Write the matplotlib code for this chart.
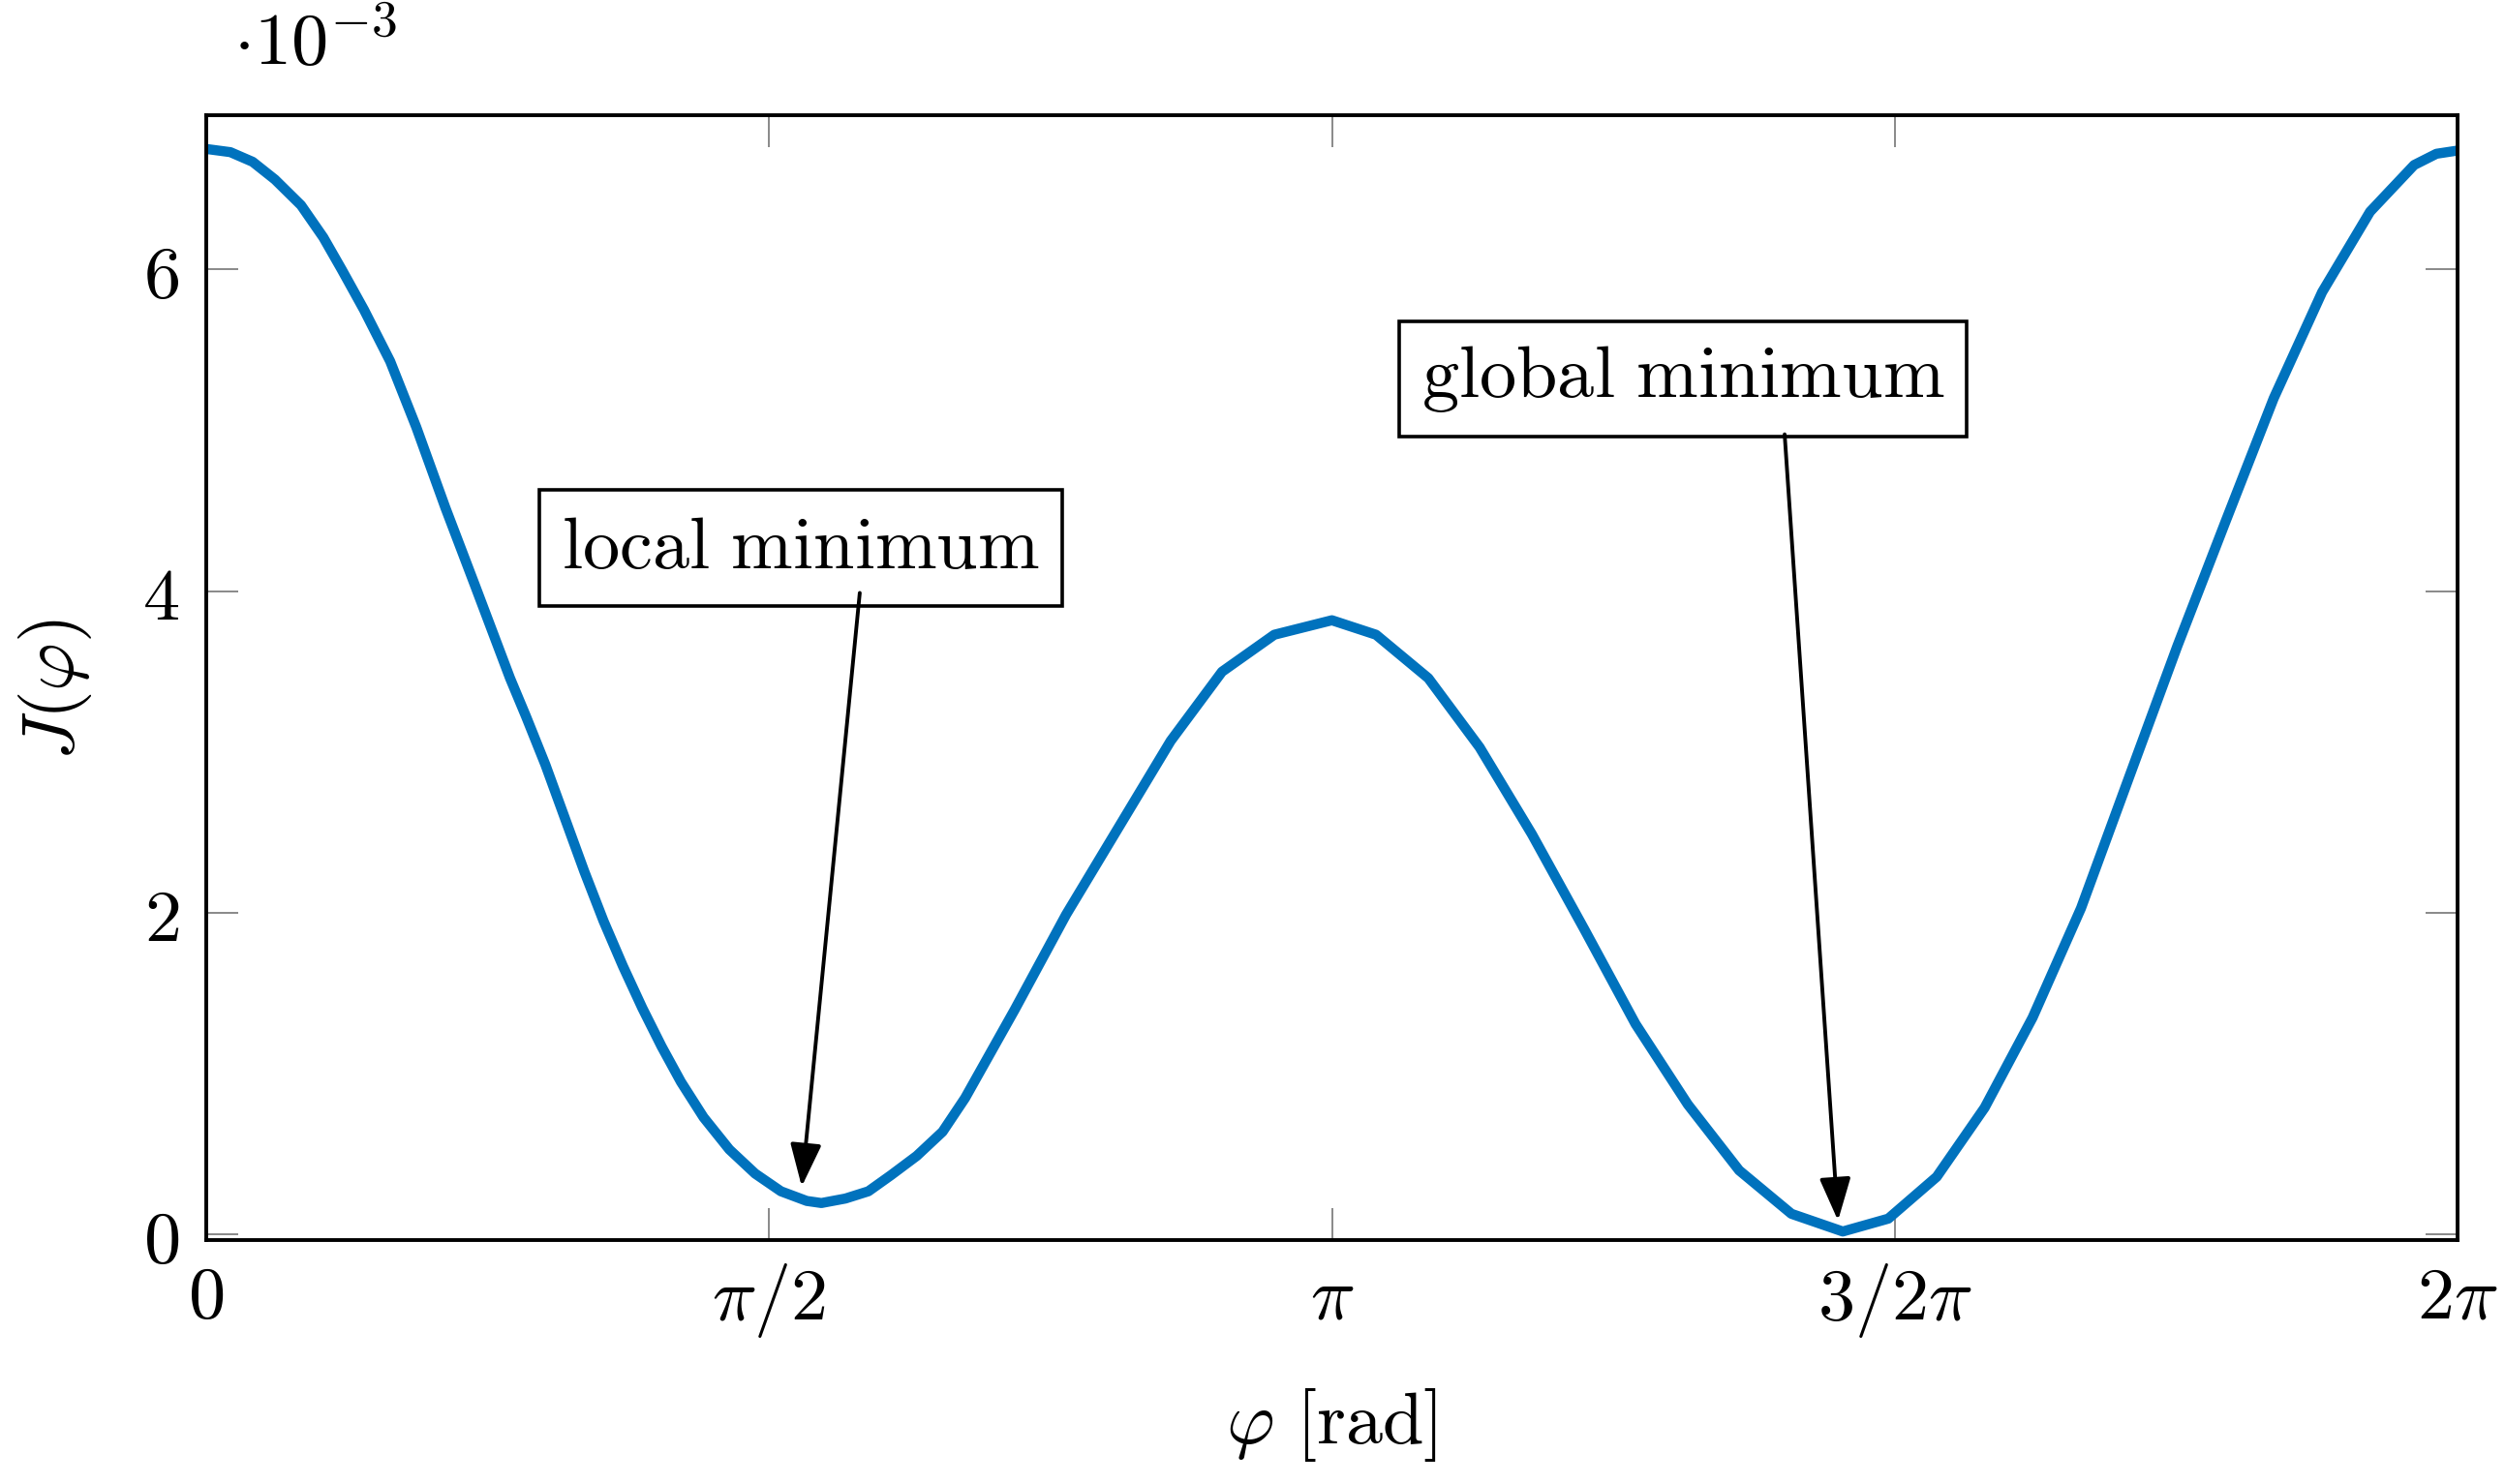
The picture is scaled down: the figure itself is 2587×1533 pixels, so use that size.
import matplotlib
matplotlib.use('Agg')
import matplotlib.pyplot as plt
import numpy as np

plt.rcParams['mathtext.fontset'] = 'cm'

# cost function: phi [rad], J in units of 1e-3
phi = [0.0, 0.0676, 0.1297, 0.1919, 0.2648, 0.3270, 0.3784, 0.4405, 0.5135,
       0.5864, 0.6675, 0.7513, 0.848, 0.893, 0.947, 1.001, 1.055, 1.109,
       1.163, 1.217, 1.271, 1.325, 1.388, 1.460, 1.532, 1.604, 1.676, 1.717,
       1.784, 1.848, 1.911, 1.983, 2.055, 2.118,
       2.2566, 2.3998, 2.5457, 2.6917, 2.8349, 2.9808, 3.1416, 3.2647, 3.4106,
       3.5538, 3.6997, 3.8457, 3.9889, 4.1348, 4.2781, 4.4240, 4.5672, 4.6943,
       4.8294, 4.9632, 5.0970, 5.2321, 5.3672, 5.5010, 5.6348, 5.7699, 5.9050,
       6.0388, 6.1617, 6.224, 6.2832]
J = [6.75, 6.73, 6.67, 6.56, 6.40, 6.20, 6.00, 5.75, 5.43,
     5.02, 4.52, 4.03, 3.46, 3.22, 2.92, 2.59, 2.26, 1.95,
     1.67, 1.41, 1.17, 0.95, 0.73, 0.53, 0.38, 0.27, 0.21, 0.197,
     0.225, 0.27, 0.37, 0.49, 0.64, 0.85,
     1.40, 1.99, 2.53, 3.07, 3.50, 3.73, 3.82, 3.73, 3.46,
     3.03, 2.49, 1.90, 1.31, 0.81, 0.40, 0.13, 0.02, 0.10,
     0.36, 0.79, 1.35, 2.03, 2.85, 3.66, 4.43, 5.20, 5.86,
     6.36, 6.65, 6.72, 6.74]

xticks = [0, np.pi / 2, np.pi, 3 * np.pi / 2, 2 * np.pi]
xticklabels = [r'$0$', r'$\pi/2$', r'$\pi$', r'$3/2\pi$', r'$2\pi$']
yticks = [0, 2, 4, 6]
yticklabels = [r'$0$', r'$2$', r'$4$', r'$6$']

notes = [r'$\mathrm{local\ minimum}$', r'$\mathrm{global\ minimum}$']
note_xy = [(1.659, 4.27), (4.121, 5.32)]
arrow_start = [(1.824, 3.99), (4.405, 4.976)]
arrow_end = [(1.662, 0.30), (4.554, 0.088)]

fs = 55

fig, ax = plt.subplots(figsize=(25.87, 15.33))
fig.subplots_adjust(left=0.0823, right=0.9811, bottom=0.1644, top=0.9224)

ax.plot(phi, J, color='#0072BD', lw=7.5, solid_joinstyle='round')

ax.set_xlim(0, 2 * np.pi)
ax.set_ylim(-0.033, 6.96)
ax.set_xticks(xticks)
ax.set_xticklabels(xticklabels)
ax.set_yticks(yticks)
ax.set_yticklabels(yticklabels)
ax.tick_params(direction='in', length=24, width=1.3, color='#808080',
               top=True, right=True, labelsize=fs)
ax.tick_params(axis='x', pad=16)
ax.tick_params(axis='y', pad=20)
for s in ax.spines.values():
    s.set_linewidth(2.8)

ax.set_xlabel(r'$\varphi\ [\mathrm{rad}]$', fontsize=fs)
ax.xaxis.set_label_coords(0.5, -0.13)
ax.set_ylabel(r'$J(\varphi)$', fontsize=fs)
ax.yaxis.set_label_coords(-0.05, 0.49)

ax.text(0.012, 1.031, r'$\cdot10^{-3}$', transform=ax.transAxes,
        fontsize=fs, ha='left', va='bottom')

for txt, pos, a, b in zip(notes, note_xy, arrow_start, arrow_end):
    ax.text(pos[0], pos[1], txt, fontsize=fs, ha='center', va='center',
            bbox=dict(boxstyle='square,pad=0.3', fc='white', ec='black', lw=2.6),
            zorder=5)
    ax.annotate('', xy=b, xytext=a,
                arrowprops=dict(arrowstyle='-|>,head_length=0.6,head_width=0.22',
                                lw=2.8, color='black', shrinkA=0, shrinkB=0,
                                mutation_scale=45),
                zorder=6)

fig.savefig('out.png', dpi=100)
